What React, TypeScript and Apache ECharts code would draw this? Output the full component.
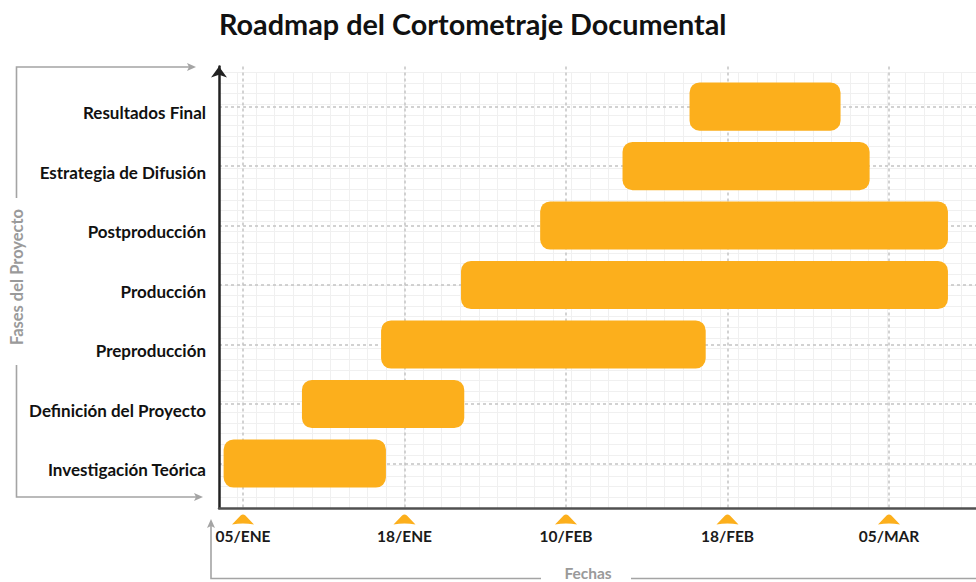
import React, { useEffect, useRef } from "react";
import * as echarts from "echarts";

const TITLE = "Roadmap del Cortometraje Documental";
const X_NAME = "Fechas";
const Y_NAME = "Fases del Proyecto";

// bottom-to-top order
const phases = [
  "Investigación Teórica",
  "Definición del Proyecto",
  "Preproducción",
  "Producción",
  "Postproducción",
  "Estrategia de Difusión",
  "Resultados Final",
];
// positions in tick units (0 = 05/ENE, 1 = 18/ENE, ...)
const starts = [-0.12, 0.365, 0.855, 1.35, 1.84, 2.35, 2.765];
const ends = [0.885, 1.37, 2.865, 4.365, 4.365, 3.88, 3.7];

const dateLabels = ["05/ENE", "18/ENE", "10/FEB", "18/FEB", "05/MAR"];
const dateTicks = [0, 1, 2, 3, 4];
const phaseTicks = [0, 1, 2, 3, 4, 5, 6];

const FONT = "Lato, 'Open Sans', sans-serif";
const ORANGE = "#FCAF1C";
const GRAY = "#a4a4a4";

export default function App() {
  const ref = useRef<HTMLDivElement>(null);

  useEffect(() => {
    if (!ref.current) return;
    const chart = echarts.init(ref.current, null, { renderer: "svg" });

    const barData = phases.map((_, i) => [starts[i], ends[i], i]);

    const option: any = {
      animation: false,
      backgroundColor: "#ffffff",
      title: {
        text: TITLE,
        left: 214,
        top: 4,
        textStyle: { fontFamily: FONT, fontSize: 28.8, fontWeight: "bold", color: "#111" },
      },
      grid: [
        { left: 219, right: 0, top: 66.5, bottom: 74, outerBoundsMode: "none" },
        { left: 219, right: 0, top: 72.3, bottom: 74, outerBoundsMode: "none" },
      ],
      xAxis: [
        {
          type: "value",
          gridIndex: 0,
          min: -0.1486,
          max: 4.5387,
          position: "bottom",
          z: 1,
          axisLine: { show: true, onZero: false, lineStyle: { color: "#505050", width: 2.5 } },
          axisTick: { show: false, customValues: dateTicks },
          axisLabel: {
            customValues: dateTicks,
            formatter: (v: number) => dateLabels[Math.round(v)] ?? "",
            margin: 20,
            fontFamily: FONT,
            fontSize: 15.5,
            fontWeight: "bold",
            color: "#1a1a1a",
          },
          splitLine: { show: true, lineStyle: { color: "#c4c4c4", width: 1.5, type: [3, 3] } },
        },
        {
          type: "value",
          gridIndex: 1,
          min: 0,
          max: 40.79,
          interval: 1,
          position: "top",
          z: 0,
          axisLine: { show: false },
          axisTick: { show: false },
          axisLabel: { show: false },
          splitLine: { show: true, lineStyle: { color: "#f0f0f0", width: 1 } },
        },
      ],
      yAxis: [
        {
          type: "value",
          gridIndex: 0,
          min: -0.748,
          max: 6.673,
          z: 1,
          axisLine: {
            show: true,
            onZero: false,
            symbol: ["none", "arrow"],
            symbolSize: [12, 11],
            lineStyle: { color: "#222", width: 2.5 },
          },
          axisTick: { show: false, customValues: phaseTicks },
          axisLabel: {
            customValues: phaseTicks,
            formatter: (v: number) => phases[Math.round(v)] ?? "",
            margin: 13,
            verticalAlign: "top",
            lineHeight: 12,
            fontFamily: FONT,
            fontSize: 17,
            fontWeight: "bold",
            color: "#111",
          },
          splitLine: { show: true, lineStyle: { color: "#c4c4c4", width: 1.5, type: [3, 3] } },
        },
        {
          type: "value",
          gridIndex: 1,
          min: 0,
          max: 41,
          interval: 1,
          z: 0,
          axisLine: { show: false },
          axisTick: { show: false },
          axisLabel: { show: false },
          splitLine: { show: true, lineStyle: { color: "#f0f0f0", width: 1 } },
        },
      ],
      series: [
        {
          type: "custom",
          name: "fases",
          xAxisIndex: 0,
          yAxisIndex: 0,
          z: 3,
          encode: { x: [0, 1], y: 2 },
          data: barData,
          renderItem: (params: any, api: any) => {
            const s = api.coord([api.value(0), api.value(2)]);
            const e = api.coord([api.value(1), api.value(2)]);
            const h = api.size([0, 0.81])[1];
            return {
              type: "rect",
              shape: { x: s[0], y: s[1] - h / 2, width: e[0] - s[0], height: h, r: 10 },
              style: { fill: ORANGE },
            };
          },
        },
        {
          type: "custom",
          name: "marcas",
          xAxisIndex: 0,
          yAxisIndex: 0,
          z: 3,
          clip: false,
          encode: { x: 0 },
          data: dateTicks.map((t) => [t]),
          renderItem: (params: any, api: any) => {
            const p = api.coord([api.value(0), -0.748]);
            return {
              type: "path",
              x: p[0] - 11,
              y: p[1] + 6,
              shape: {
                pathData: "M0,11 L8.6,2 Q11,-0.4 13.4,2 L22,11 Q11,8.6 0,11 Z",
                x: 0,
                y: 0,
                width: 22,
                height: 11,
              },
              style: { fill: ORANGE },
            };
          },
        },
      ],
      graphic: [
        {
          type: "polyline",
          shape: { points: [[192, 67], [16.5, 67], [16.5, 198]] },
          style: { stroke: GRAY, lineWidth: 1.6, fill: "none" },
        },
        {
          type: "polygon",
          shape: { points: [[196, 67], [187, 63], [189, 67], [187, 71]] },
          style: { fill: GRAY },
        },
        {
          type: "polyline",
          shape: { points: [[16.5, 365], [16.5, 497], [199, 497]] },
          style: { stroke: GRAY, lineWidth: 1.6, fill: "none" },
        },
        {
          type: "polygon",
          shape: { points: [[203, 497], [194, 493], [196, 497], [194, 501]] },
          style: { fill: GRAY },
        },
        {
          type: "text",
          x: 17,
          y: 277,
          rotation: Math.PI / 2,
          style: {
            text: Y_NAME,
            fill: "#9a9a9a",
            font: `bold 16.5px ${FONT}`,
            align: "center",
            verticalAlign: "middle",
          },
        },
        {
          type: "polyline",
          shape: { points: [[211, 524], [211, 578.5], [541, 578.5]] },
          style: { stroke: GRAY, lineWidth: 1.6, fill: "none" },
        },
        {
          type: "polygon",
          shape: { points: [[211, 519], [207, 528], [211, 526], [215, 528]] },
          style: { fill: GRAY },
        },
        {
          type: "line",
          shape: { x1: 631, y1: 578.5, x2: 976, y2: 578.5 },
          style: { stroke: GRAY, lineWidth: 1.6 },
        },
        {
          type: "text",
          x: 588,
          y: 572.5,
          style: {
            text: X_NAME,
            fill: "#9a9a9a",
            font: `bold 15.5px ${FONT}`,
            align: "center",
            verticalAlign: "middle",
          },
        },
      ],
    };

    chart.setOption(option);
    return () => chart.dispose();
  }, []);

  return (
    <div
      ref={ref}
      style={{ position: "fixed", left: 0, top: 0, width: 976, height: 582 }}
    />
  );
}
